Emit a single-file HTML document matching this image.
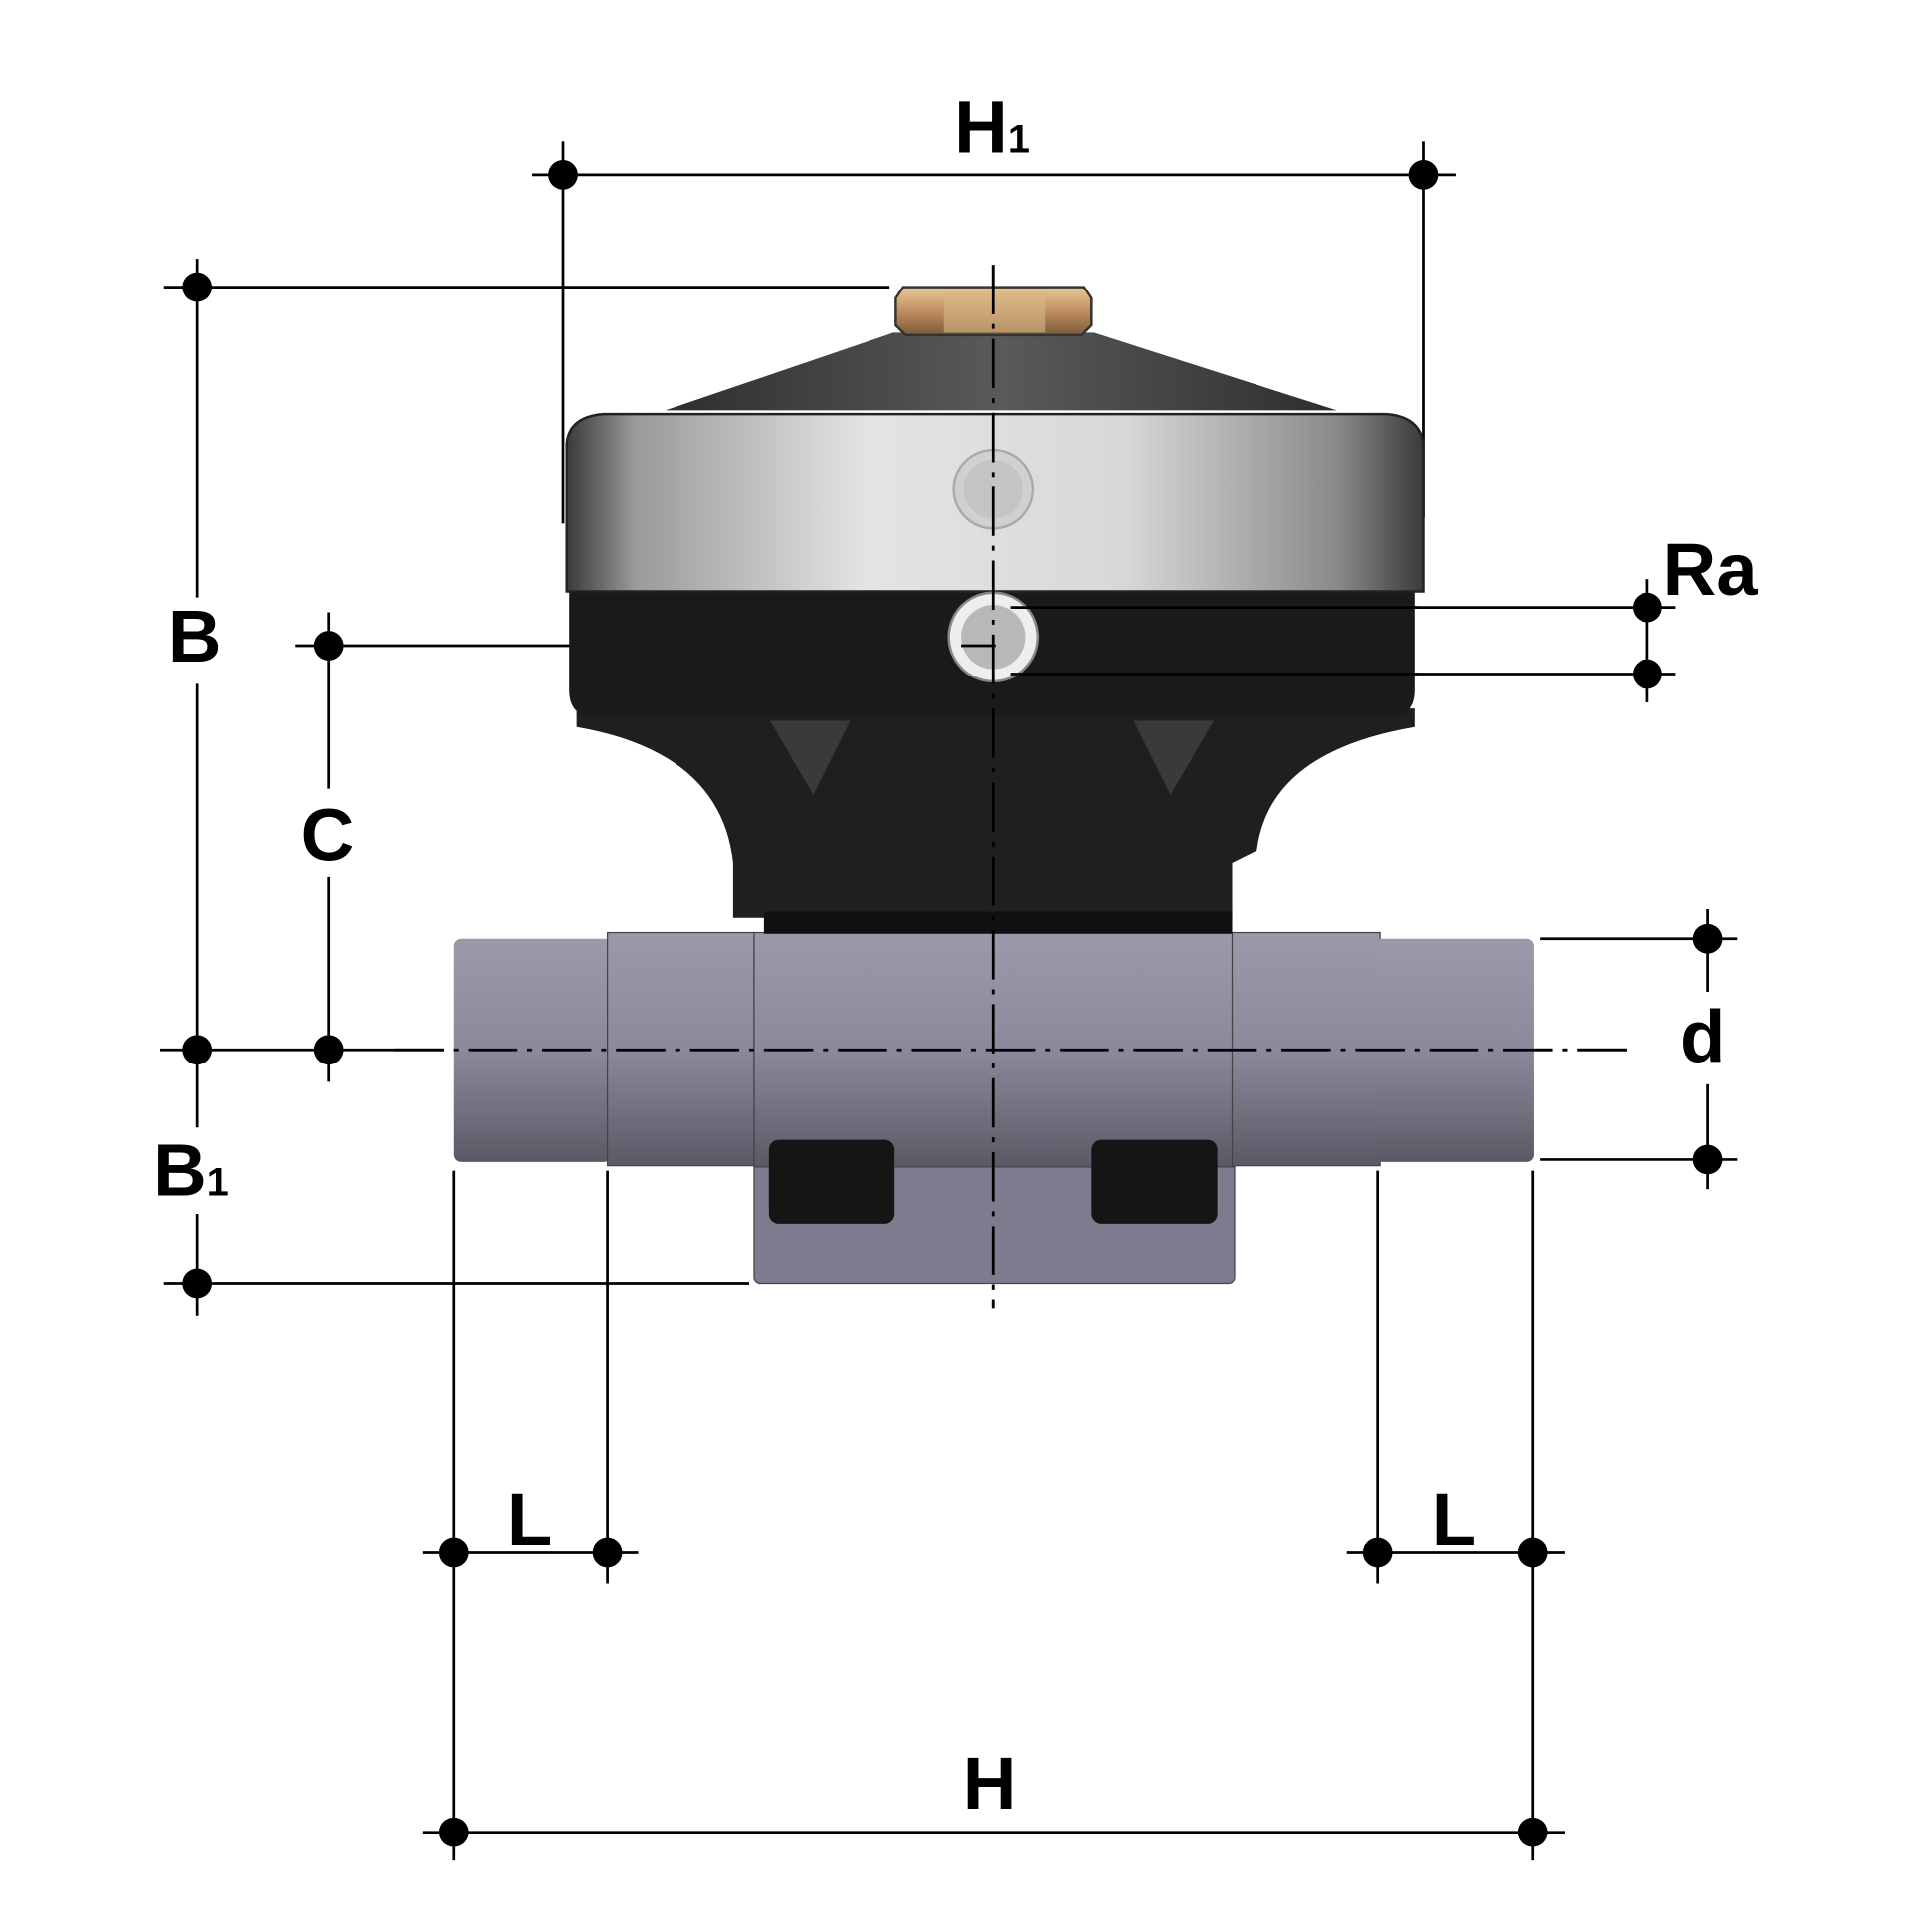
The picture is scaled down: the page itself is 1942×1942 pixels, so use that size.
<!DOCTYPE html>
<html><head><style>html,body{margin:0;padding:0;background:#fff}svg{display:block}</style></head>
<body>
<svg width="1942" height="1942" viewBox="0 0 1568 1568" xmlns="http://www.w3.org/2000/svg">
<defs>
<linearGradient id="pipe" x1="0" y1="0" x2="0" y2="1">
<stop offset="0" stop-color="#9a9aaa"/><stop offset="0.5" stop-color="#8a8a9c"/><stop offset="1" stop-color="#5a5a66"/></linearGradient>
<linearGradient id="silver" x1="0" y1="0" x2="1" y2="0">
<stop offset="0" stop-color="#3a3a3a"/><stop offset="0.08" stop-color="#9a9a9a"/><stop offset="0.35" stop-color="#e4e4e4"/><stop offset="0.65" stop-color="#d8d8d8"/><stop offset="0.9" stop-color="#8a8a8a"/><stop offset="1" stop-color="#3a3a3a"/></linearGradient>
<linearGradient id="dome" x1="0" y1="0" x2="1" y2="0">
<stop offset="0" stop-color="#2e2e2e"/><stop offset="0.5" stop-color="#5a5a5a"/><stop offset="1" stop-color="#2e2e2e"/></linearGradient>
<linearGradient id="brass" x1="0" y1="0" x2="0" y2="1">
<stop offset="0" stop-color="#e8c898"/><stop offset="0.5" stop-color="#c09060"/><stop offset="1" stop-color="#7a5a3a"/></linearGradient>
</defs>
<g stroke="#000" stroke-width="2.2" fill="none">
<!-- H1 -->
<line x1="432" y1="142" x2="1182" y2="142"/>
<line x1="457" y1="115" x2="457" y2="425"/>
<line x1="1155" y1="115" x2="1155" y2="420"/>
<!-- B -->
<line x1="133" y1="233" x2="722" y2="233"/>
<line x1="160" y1="210" x2="160" y2="485"/>
<line x1="160" y1="555" x2="160" y2="915"/>
<line x1="160" y1="985" x2="160" y2="1068"/>
<line x1="133" y1="1042" x2="608" y2="1042"/>
<!-- C -->
<line x1="267" y1="497" x2="267" y2="640"/>
<line x1="267" y1="712" x2="267" y2="878"/>
<line x1="240" y1="524" x2="808" y2="524"/>
<!-- centerline -->
<line x1="130" y1="852" x2="320" y2="852"/>
<line x1="320" y1="852" x2="1325" y2="852" stroke-dasharray="40 8 4 8"/>
<line x1="806" y1="215" x2="806" y2="1062" stroke-dasharray="40 8 4 8"/>
<!-- Ra -->
<line x1="820" y1="493" x2="1360" y2="493"/>
<line x1="820" y1="547" x2="1360" y2="547"/>
<line x1="1337" y1="470" x2="1337" y2="570"/>
<!-- d -->
<line x1="1250" y1="762" x2="1410" y2="762"/>
<line x1="1250" y1="941" x2="1410" y2="941"/>
<line x1="1386" y1="738" x2="1386" y2="805"/>
<line x1="1386" y1="880" x2="1386" y2="965"/>
<!-- L and H -->
<line x1="368" y1="950" x2="368" y2="1510"/>
<line x1="493" y1="950" x2="493" y2="1285"/>
<line x1="343" y1="1260" x2="518" y2="1260"/>
<line x1="1118" y1="950" x2="1118" y2="1285"/>
<line x1="1244" y1="950" x2="1244" y2="1510"/>
<line x1="1093" y1="1260" x2="1270" y2="1260"/>
<line x1="343" y1="1487" x2="1270" y2="1487"/>
</g>
<!-- valve -->
<!-- body -->
<rect x="368" y="762" width="128" height="181" rx="6" fill="url(#pipe)"/>
<rect x="493" y="757" width="122" height="189" fill="url(#pipe)" stroke="#444" stroke-width="1"/>
<rect x="612" y="757" width="390" height="285" rx="5" fill="#7c7c8e" stroke="#444" stroke-width="1"/>
<rect x="612" y="757" width="390" height="190" fill="url(#pipe)" stroke="#444" stroke-width="1"/>
<rect x="1000" y="757" width="120" height="189" fill="url(#pipe)" stroke="#444" stroke-width="1"/>
<rect x="1116" y="762" width="129" height="181" rx="6" fill="url(#pipe)"/>
<rect x="624" y="925" width="102" height="68" rx="8" fill="#151515"/>
<rect x="886" y="925" width="102" height="68" rx="8" fill="#151515"/>
<!-- neck -->
<path d="M468 575 L1148 575 L1148 590 Q1030 610 1020 690 L1000 700 L1000 745 L595 745 L595 700 Q585 610 468 590 Z" fill="#1f1f1f"/>
<rect x="620" y="740" width="380" height="18" fill="#111"/>
<path d="M625 585 L690 585 L660 645 Z" fill="#3a3a3a"/>
<path d="M920 585 L985 585 L950 645 Z" fill="#3a3a3a"/>
<!-- black band -->
<path d="M462 476 L1148 476 L1148 560 Q1148 582 1126 582 L484 582 Q462 582 462 560 Z" fill="#1a1a1a"/>
<!-- silver bonnet -->
<path d="M460 480 L460 360 Q462 338 490 336 L1125 336 Q1152 338 1155 360 L1155 480 Z" fill="url(#silver)" stroke="#222" stroke-width="2"/>
<!-- dome -->
<path d="M540 333 L725 270 L888 270 L1085 333 Z" fill="url(#dome)"/>
<!-- brass cap -->
<path d="M733 233 L880 233 L886 242 L886 264 L878 272 L735 272 L727 264 L727 242 Z" fill="url(#brass)" stroke="#333" stroke-width="2"/>
<rect x="766" y="237" width="82" height="33" fill="#d8b888" opacity="0.6"/>
<!-- ports -->
<circle cx="806" cy="397" r="32" fill="#d0d0d0" stroke="#aaa" stroke-width="2"/>
<circle cx="806" cy="397" r="24" fill="#c4c4c4"/>
<circle cx="806" cy="517" r="36" fill="#eee" stroke="#888" stroke-width="2"/>
<circle cx="806" cy="517" r="26" fill="#b8b8b8"/>
<!-- lines over valve -->
<g stroke="#000" stroke-width="2.2" fill="none">
<line x1="806" y1="215" x2="806" y2="1062" stroke-dasharray="40 8 4 8"/>
<line x1="320" y1="852" x2="1325" y2="852" stroke-dasharray="40 8 4 8"/>
<line x1="780" y1="524" x2="808" y2="524"/>
<line x1="820" y1="493" x2="1150" y2="493"/>
<line x1="820" y1="547" x2="1150" y2="547"/>
</g>
<!-- dots -->
<g fill="#000">
<circle cx="457" cy="142" r="12"/><circle cx="1155" cy="142" r="12"/>
<circle cx="160" cy="233" r="12"/><circle cx="160" cy="852" r="12"/><circle cx="160" cy="1042" r="12"/>
<circle cx="267" cy="524" r="12"/><circle cx="267" cy="852" r="12"/>
<circle cx="1337" cy="493" r="12"/><circle cx="1337" cy="547" r="12"/>
<circle cx="1386" cy="762" r="12"/><circle cx="1386" cy="941" r="12"/>
<circle cx="368" cy="1260" r="12"/><circle cx="493" cy="1260" r="12"/>
<circle cx="1118" cy="1260" r="12"/><circle cx="1244" cy="1260" r="12"/>
<circle cx="368" cy="1487" r="12"/><circle cx="1244" cy="1487" r="12"/>
</g>
<g font-family="Liberation Sans, sans-serif" font-weight="bold" font-size="60" fill="#000" text-anchor="middle">
<text x="805" y="124">H<tspan font-size="32" dy="0">1</tspan></text>
<text x="158" y="537">B</text>
<text x="266" y="698">C</text>
<text x="155" y="970">B<tspan font-size="32">1</tspan></text>
<text x="1388" y="483">Ra</text>
<text x="1382" y="862">d</text>
<text x="430" y="1254">L</text>
<text x="1180" y="1254">L</text>
<text x="803" y="1468">H</text>
</g>
</svg>
</body></html>
